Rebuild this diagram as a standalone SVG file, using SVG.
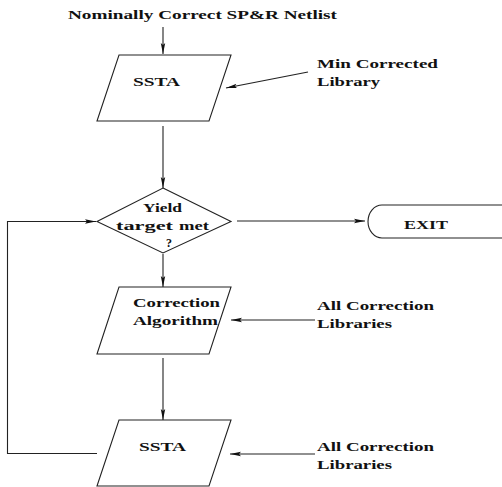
<svg xmlns="http://www.w3.org/2000/svg" width="502" height="487" viewBox="0 0 502 487">
<defs>
<marker id="ah" markerUnits="userSpaceOnUse" markerWidth="12" markerHeight="6" refX="11" refY="3" orient="auto">
<path d="M0,0.8 L11,3 L0,5.2 L2,3 z" fill="#111"/>
</marker>
<style>
.s{fill:#fff;stroke:#222;stroke-width:1.1}
.c{fill:none;stroke:#222;stroke-width:1.1}
.a{marker-end:url(#ah)}
text{font-family:"Liberation Serif","Times New Roman",serif;font-weight:bold;font-size:12.5px;fill:#111}
</style>
</defs>
<rect width="502" height="487" fill="#fff"/>
<g id="connectors">
<line class="c a" x1="163" y1="27" x2="163" y2="54"/>
<line class="c a" x1="308" y1="72" x2="226" y2="88"/>
<line class="c a" x1="163" y1="126" x2="163" y2="188"/>
<line class="c a" x1="237" y1="221" x2="365" y2="221"/>
<line class="c a" x1="163" y1="254" x2="163" y2="287"/>
<line class="c a" x1="315" y1="320" x2="231" y2="320"/>
<line class="c a" x1="163" y1="358" x2="163" y2="420"/>
<line class="c a" x1="315" y1="454" x2="230" y2="454"/>
<polyline class="c a" points="97,453.5 7.5,453.5 7.5,221.5 96,221.5"/>
</g>
<g id="title">
<text x="68" y="19" textLength="269" lengthAdjust="spacingAndGlyphs">Nominally Correct SP&amp;R Netlist</text>
</g>
<g id="ssta1">
<polygon class="s" points="119,55 231,55 209,121 97,121"/>
<text x="133" y="86" textLength="47" lengthAdjust="spacingAndGlyphs">SSTA</text>
</g>
<g id="minlib">
<text x="317" y="67.5" textLength="121" lengthAdjust="spacingAndGlyphs">Min Corrected</text>
<text x="317" y="86" textLength="63" lengthAdjust="spacingAndGlyphs">Library</text>
</g>
<g id="yield">
<polygon class="s" points="163,188 231,221.5 163,253 97,221.5"/>
<text x="143" y="212" textLength="39" lengthAdjust="spacingAndGlyphs">Yield</text>
<text x="116" y="229.5" textLength="57" lengthAdjust="spacingAndGlyphs">target</text>
<text x="179" y="229.5" textLength="30" lengthAdjust="spacingAndGlyphs">met</text>
<text x="166" y="247" textLength="6" lengthAdjust="spacingAndGlyphs">?</text>
</g>
<g id="exit">
<rect class="s" x="368" y="205" width="148" height="33" rx="14" ry="16.5"/>
<text x="404" y="229" textLength="44" lengthAdjust="spacingAndGlyphs">EXIT</text>
</g>
<g id="correction">
<polygon class="s" points="119,287 231,287 209,354 97,354"/>
<text x="133" y="307" textLength="87" lengthAdjust="spacingAndGlyphs">Correction</text>
<text x="133" y="324.5" textLength="85" lengthAdjust="spacingAndGlyphs">Algorithm</text>
</g>
<g id="alllib1">
<text x="317" y="310" textLength="117" lengthAdjust="spacingAndGlyphs">All Correction</text>
<text x="317" y="328" textLength="75" lengthAdjust="spacingAndGlyphs">Libraries</text>
</g>
<g id="ssta2">
<polygon class="s" points="119,420 231,420 209,486 97,486"/>
<text x="139" y="451" textLength="47" lengthAdjust="spacingAndGlyphs">SSTA</text>
</g>
<g id="alllib2">
<text x="317" y="451" textLength="117" lengthAdjust="spacingAndGlyphs">All Correction</text>
<text x="317" y="468.5" textLength="75" lengthAdjust="spacingAndGlyphs">Libraries</text>
</g>
</svg>
